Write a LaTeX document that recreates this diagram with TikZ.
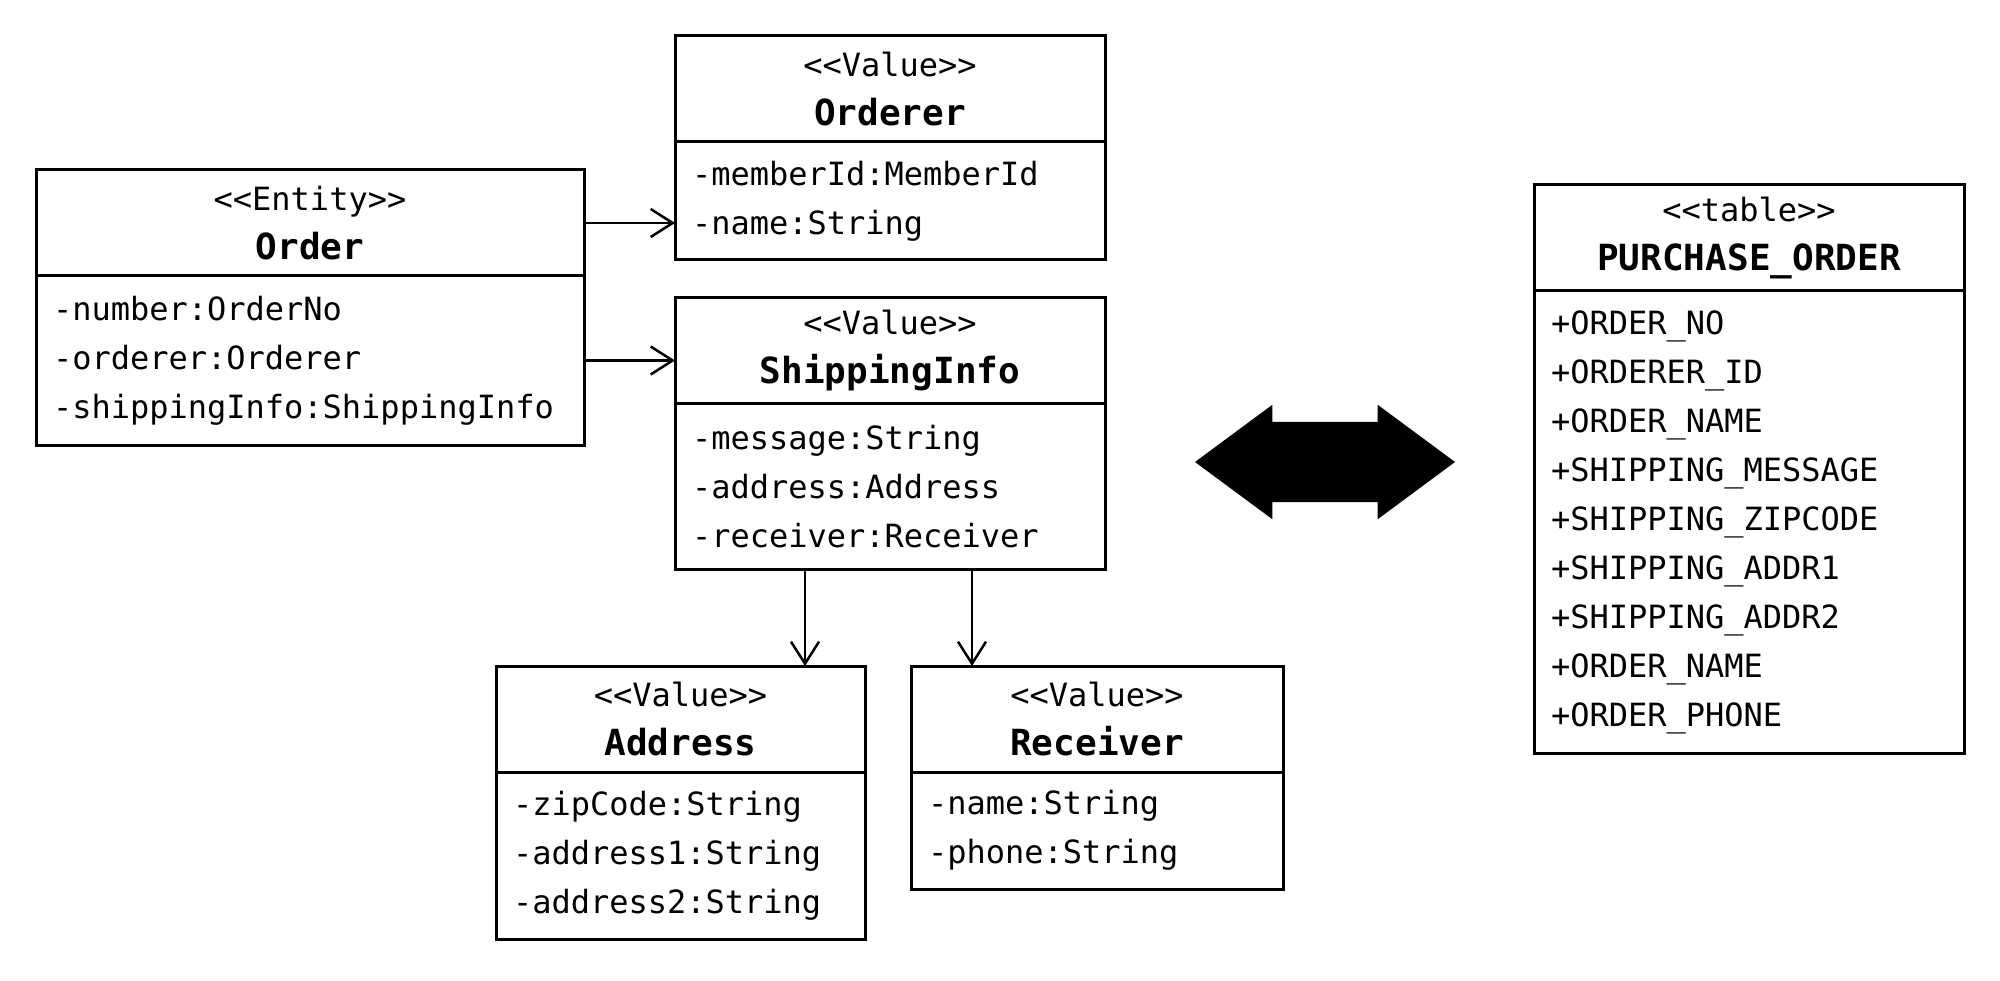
\documentclass[tikz,border=0pt]{standalone}
\usepackage{fontspec}
\newfontfamily\umlfont{DejaVu Sans Mono}
\usetikzlibrary{positioning, arrows.meta, shapes.arrows}
\newcommand{\umlname}[1]{{\bfseries\fontsize{36}{49}\selectfont #1}}
\tikzset{
  umlhead/.style={draw, line width=3pt, outer sep=0pt, anchor=north west, minimum width=#1, minimum height=106pt, align=center, inner sep=0pt},
  umlbody/.style={draw, line width=3pt, outer sep=0pt, text width=#1, inner xsep=17pt, inner ysep=0pt, align=left},
  assoc/.style={line width=2.5pt, -{Straight Barb[length=22pt, width=28pt]}},
  maparrow/.style={double arrow, fill=black, draw=none, inner xsep=0pt, inner ysep=40pt, minimum height=260pt, double arrow head extend=17pt, double arrow tip angle=73},
}
\begin{document}
\begin{tikzpicture}[x=1pt, y=-1pt, font=\umlfont\fontsize{32}{49}\selectfont]
\useasboundingbox (0,0) rectangle (2000,981);
% domain model
\node[umlhead=548pt] (orderHead) at (36,170) {<<Entity>>\\\umlname{Order}};
\node[umlbody=514pt, minimum height=169pt, below=0pt of orderHead] (orderBody) {-number:OrderNo\\-orderer:Orderer\\-shippingInfo:ShippingInfo};

\node[umlhead=430pt] (ordererHead) at (675,36) {<<Value>>\\\umlname{Orderer}};
\node[umlbody=396pt, minimum height=118pt, below=0pt of ordererHead] (ordererBody) {-memberId:MemberId\\-name:String};

\node[umlhead=430pt] (shipHead) at (675,298) {<<Value>>\\\umlname{ShippingInfo}};
\node[umlbody=396pt, minimum height=165pt, below=0pt of shipHead] (shipBody) {-message:String\\-address:Address\\-receiver:Receiver};

\node[umlhead=369pt] (addrHead) at (496,666) {<<Value>>\\\umlname{Address}};
\node[umlbody=335pt, minimum height=167pt, below=0pt of addrHead] (addrBody) {-zipCode:String\\-address1:String\\-address2:String};

\node[umlhead=372pt] (recvHead) at (911,666) {<<Value>>\\\umlname{Receiver}};
\node[umlbody=338pt, minimum height=117pt, below=0pt of recvHead] (recvBody) {-name:String\\-phone:String};

% table
\node[umlhead=430pt] (tableHead) at (1534,185) {<<table>>\\\umlname{PURCHASE\_ORDER}};
\node[umlbody=396pt, minimum height=462pt, below=0pt of tableHead] (tableBody) {+ORDER\_NO\\+ORDERER\_ID\\+ORDER\_NAME\\+SHIPPING\_MESSAGE\\+SHIPPING\_ZIPCODE\\+SHIPPING\_ADDR1\\+SHIPPING\_ADDR2\\+ORDER\_NAME\\+ORDER\_PHONE};

\node[maparrow] (mapArrow) at (1325,462) {};

% associations
\coordinate (addrIn) at ([xshift=-60pt]addrHead.north east);
\coordinate (recvIn) at ([xshift=61pt]recvHead.north west);
\draw[assoc] (orderHead.east) -- (orderHead.east -| ordererBody.west);
\draw[assoc] (orderBody.east) -- (orderBody.east -| shipHead.west);
\draw[assoc] (shipBody.south -| addrIn) -- (addrIn);
\draw[assoc] (shipBody.south -| recvIn) -- (recvIn);
\end{tikzpicture}
\end{document}
